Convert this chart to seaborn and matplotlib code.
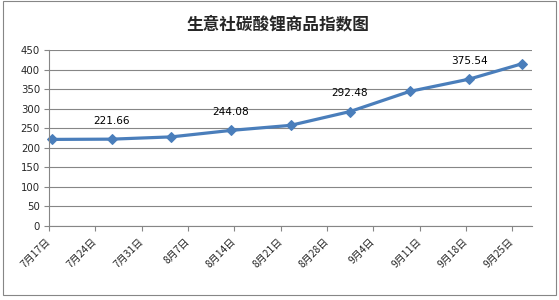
import matplotlib
matplotlib.use("Agg")
import matplotlib.pyplot as plt
import matplotlib.dates as mdates
import seaborn as sns
import pandas as pd

dates = ["2023-07-17", "2023-07-26", "2023-08-04", "2023-08-13", "2023-08-22",
         "2023-08-31", "2023-09-09", "2023-09-18", "2023-09-26"]
values = [221.0, 221.66, 227.5, 244.08, 257.0, 292.48, 344.0, 375.54, 415.0]
labeled = [1, 3, 5, 7]
tick_dates = ["2023-07-17", "2023-07-24", "2023-07-31", "2023-08-07", "2023-08-14",
              "2023-08-21", "2023-08-28", "2023-09-04", "2023-09-11", "2023-09-18",
              "2023-09-25"]
tick_labels = ["7月17日", "7月24日", "7月31日", "8月7日", "8月14日", "8月21日",
               "8月28日", "9月4日", "9月11日", "9月18日", "9月25日"]
title = "生意社碳酸锂商品指数图"

sns.set_style("white")
plt.rcParams['font.family'] = ['Noto Sans CJK SC', 'DejaVu Sans']

# Excel date axis: each point sits in the middle of its day
df = pd.DataFrame({"date": pd.to_datetime(dates) + pd.Timedelta(hours=12),
                   "value": values})

fig = plt.figure(figsize=(5.59, 3.0), dpi=100)
ax = fig.add_axes([49 / 559, 0.248, (532 - 49) / 559, 0.585])

color = "#4A7EBB"
sns.lineplot(data=df, x="date", y="value", ax=ax, color=color, linewidth=2.3,
             marker="D", markersize=5.5, markeredgecolor=color, markerfacecolor=color,
             clip_on=False)

ax.set_ylim(0, 450)
ax.set_yticks(range(0, 451, 50))
ax.set_yticklabels([str(v) for v in range(0, 451, 50)], family="DejaVu Sans")
ax.set_xticks(pd.to_datetime(tick_dates))
ax.set_xticklabels(tick_labels, rotation=45, ha="right", va="center",
                   rotation_mode="anchor", fontsize=7.3)
ax.set_xlim(mdates.date2num(pd.Timestamp("2023-07-17")),
            mdates.date2num(pd.Timestamp("2023-09-28")))
ax.tick_params(axis="y", labelsize=7.3, length=3.5, width=0.8, color="#868686", pad=3,
               direction="out", left=True)
ax.tick_params(axis="x", length=3.5, width=0.8, color="#868686", pad=7,
               direction="out", bottom=True)
ax.set_xlabel("")
ax.set_ylabel("")
ax.grid(axis="y", color="#868686", linewidth=0.8)
ax.set_axisbelow(True)
for s in ["top", "right"]:
    ax.spines[s].set_visible(False)
for s in ["left", "bottom"]:
    ax.spines[s].set_color("#868686")
    ax.spines[s].set_linewidth(0.8)

for i in labeled:
    ax.annotate(f"{values[i]:.2f}", (df["date"][i], values[i]), xytext=(0, 13),
                textcoords="offset points", ha="center", va="center", fontsize=7.6,
                color="black", family="DejaVu Sans")

fig.text(0.497, 0.917, title, ha="center", va="center", fontsize=12,
         fontweight="bold")

border = plt.Rectangle((3 / 559, 5 / 300), 553 / 559, 294 / 300, transform=fig.transFigure,
                       fill=False, edgecolor="#868686", linewidth=0.8)
fig.patches.append(border)

fig.savefig("out.png", dpi=100)
